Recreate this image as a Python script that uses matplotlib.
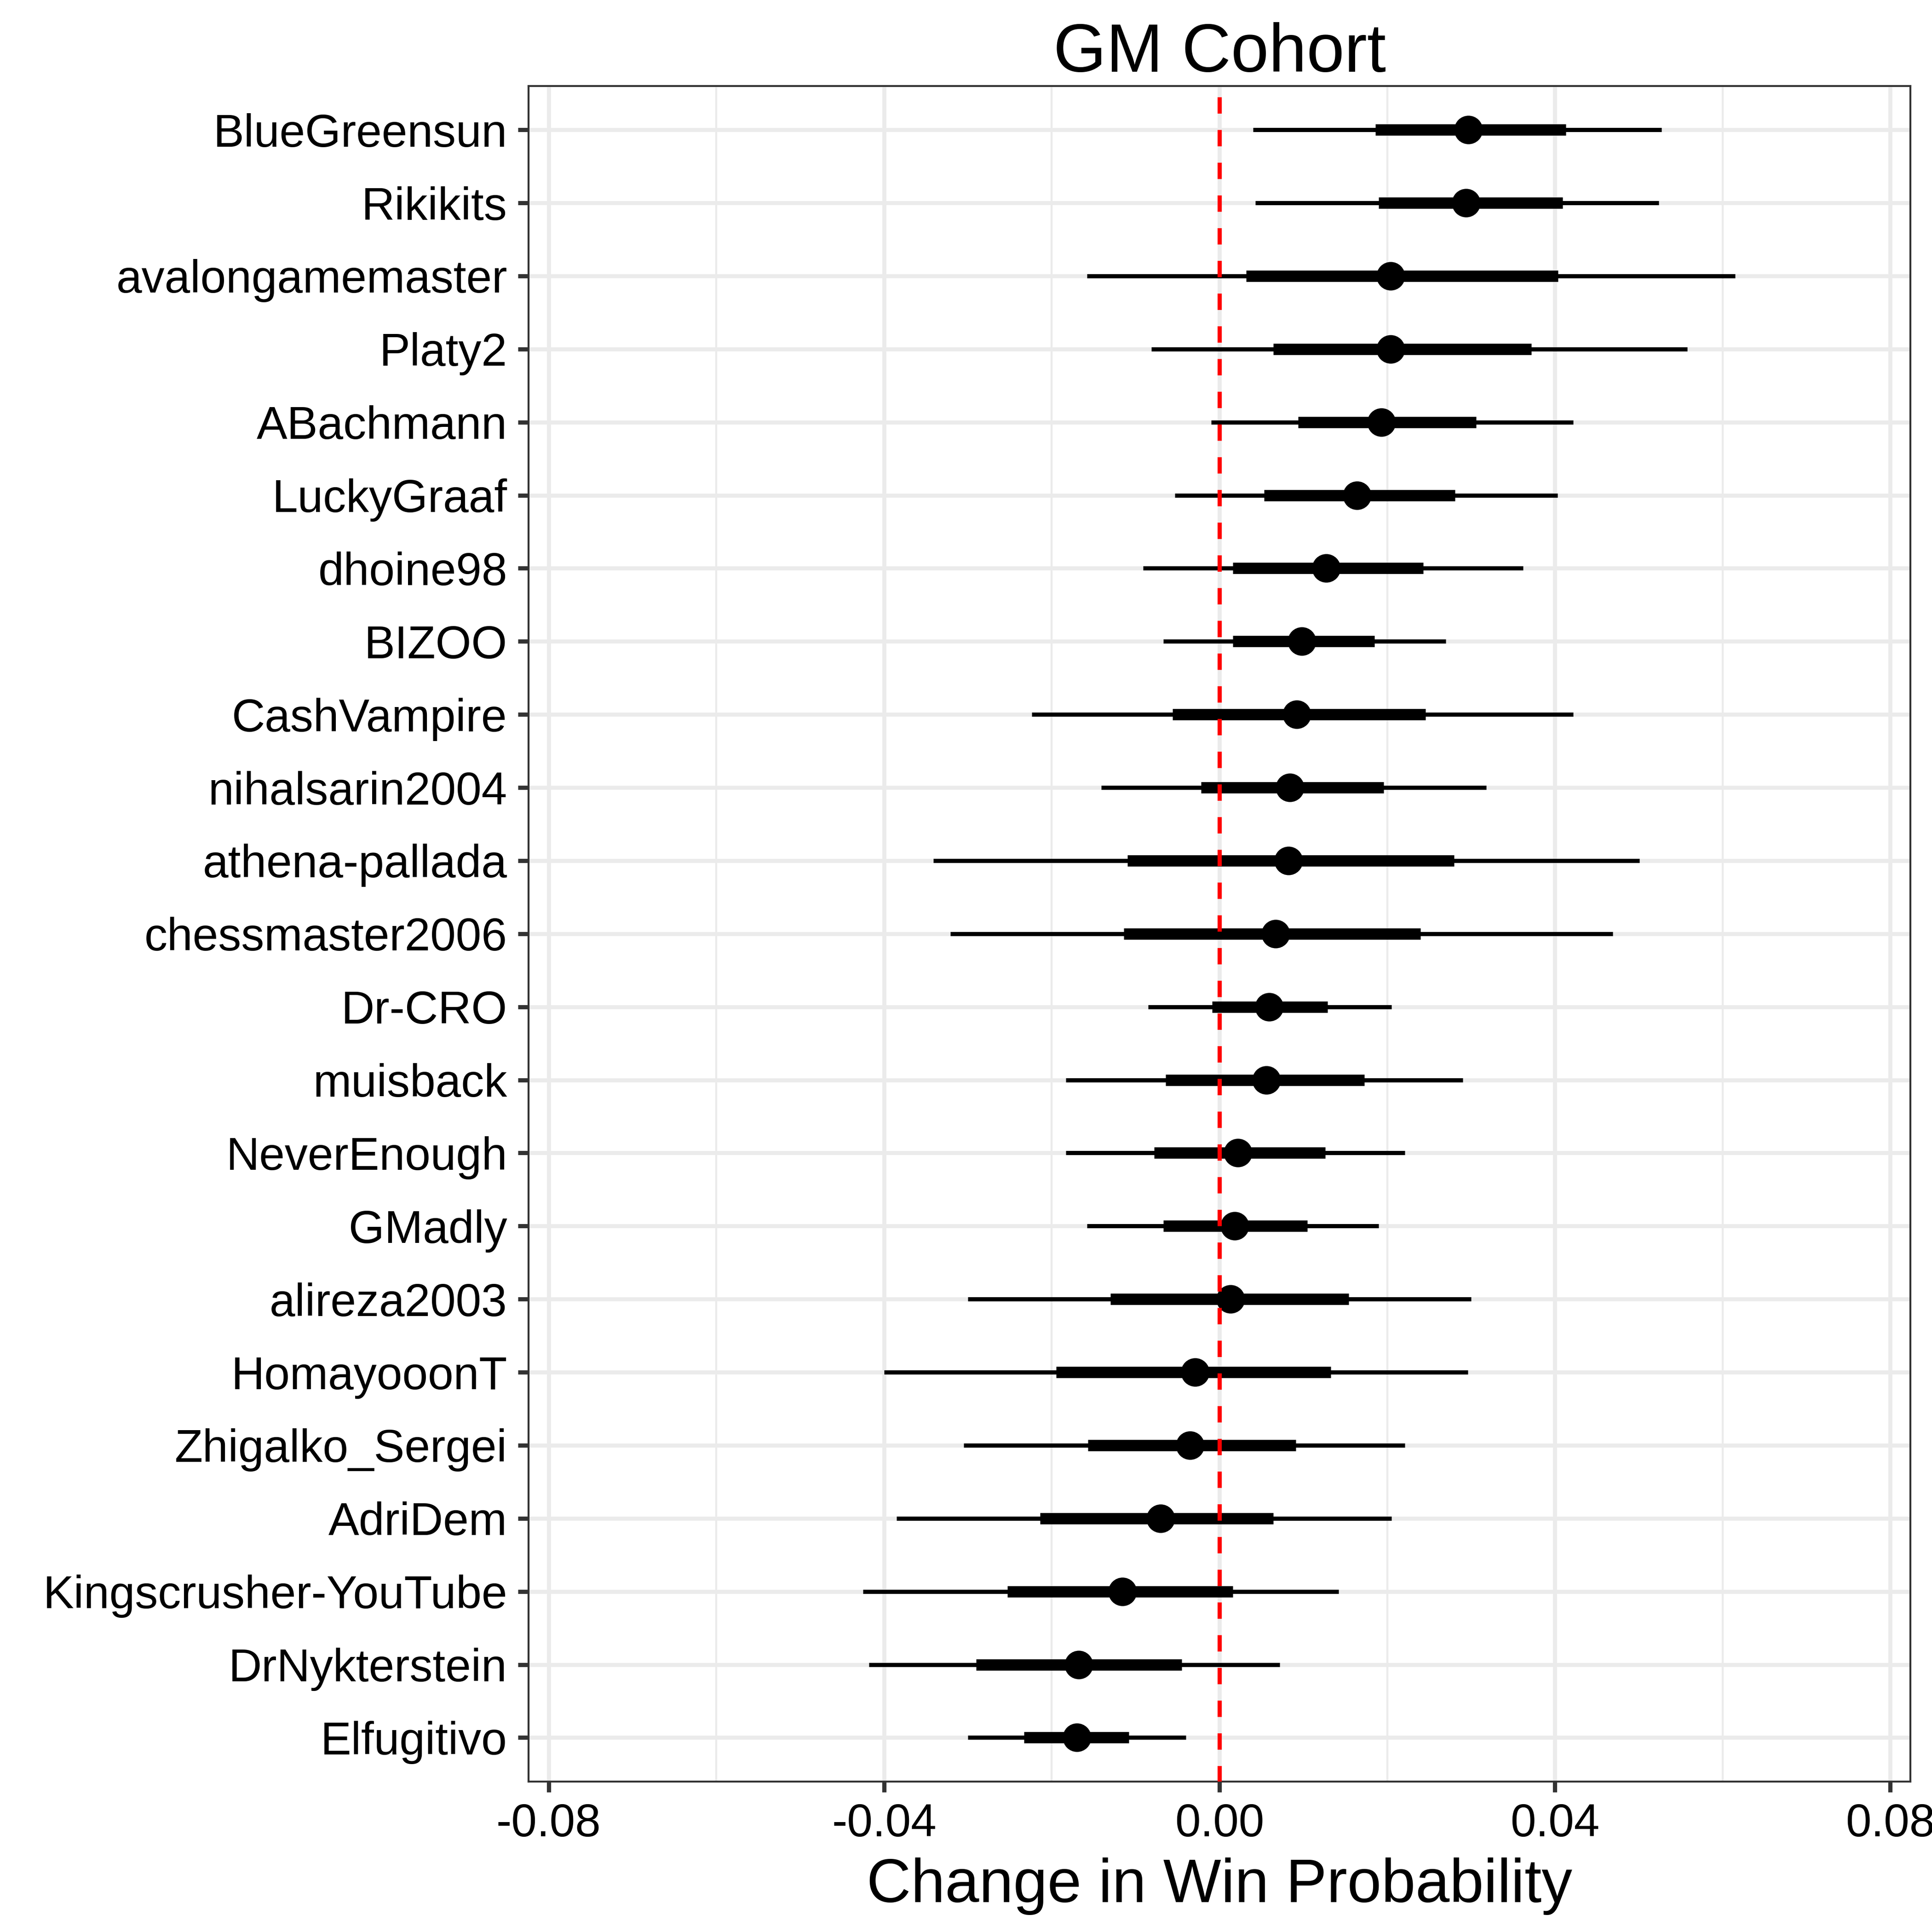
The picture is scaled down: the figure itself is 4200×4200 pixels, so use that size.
import matplotlib
matplotlib.use("Agg")
import matplotlib.pyplot as plt
import numpy as np

plt.rcParams['font.family'] = ['Liberation Sans', 'DejaVu Sans']
plt.rcParams['axes.unicode_minus'] = False

players = ["BlueGreensun", "Rikikits", "avalongamemaster", "Platy2", "ABachmann",
           "LuckyGraaf", "dhoine98", "BIZOO", "CashVampire", "nihalsarin2004",
           "athena-pallada", "chessmaster2006", "Dr-CRO", "muisback", "NeverEnough",
           "GMadly", "alireza2003", "HomayooonT", "Zhigalko_Sergei", "AdriDem",
           "Kingscrusher-YouTube", "DrNykterstein", "Elfugitivo"]
estimate = [0.0297, 0.0294, 0.0204, 0.0204, 0.0193, 0.0164, 0.0127, 0.0098, 0.0092,
            0.0084, 0.0082, 0.0067, 0.0059, 0.0056, 0.0022, 0.0018, 0.0013, -0.0029,
            -0.0035, -0.0070, -0.0116, -0.0168, -0.0170]
inner_low = [0.0186, 0.0190, 0.0032, 0.0064, 0.0094, 0.0053, 0.0016, 0.0016, -0.0056,
             -0.0022, -0.0110, -0.0114, -0.0009, -0.0064, -0.0078, -0.0067, -0.0130,
             -0.0195, -0.0157, -0.0214, -0.0253, -0.0290, -0.0233]
inner_high = [0.0413, 0.0409, 0.0404, 0.0372, 0.0306, 0.0281, 0.0243, 0.0185, 0.0246,
              0.0196, 0.0280, 0.0240, 0.0129, 0.0173, 0.0126, 0.0105, 0.0154, 0.0133,
              0.0091, 0.0064, 0.0016, -0.0045, -0.0108]
outer_low = [0.0040, 0.0043, -0.0158, -0.0081, -0.0010, -0.0053, -0.0091, -0.0067,
             -0.0224, -0.0141, -0.0341, -0.0321, -0.0085, -0.0183, -0.0183, -0.0158,
             -0.0300, -0.0400, -0.0305, -0.0385, -0.0425, -0.0418, -0.0300]
outer_high = [0.0527, 0.0524, 0.0615, 0.0558, 0.0422, 0.0403, 0.0362, 0.0270, 0.0422,
              0.0318, 0.0501, 0.0469, 0.0205, 0.0290, 0.0221, 0.0190, 0.0300, 0.0296,
              0.0221, 0.0205, 0.0142, 0.0072, -0.0040]
x_ticks = [-0.08, -0.04, 0.00, 0.04, 0.08]
x_tick_labels = ["-0.08", "-0.04", "0.00", "0.04", "0.08"]
x_minor = [-0.06, -0.02, 0.02, 0.06]

fig = plt.figure(figsize=(14, 14), dpi=300)
ax = fig.add_axes([0.2736, 0.0779, 0.9888 - 0.2736, 0.9555 - 0.0779])

n = len(players)
ypos = np.arange(n, 0, -1)

ax.set_xlim(-0.0824, 0.0824)
ax.set_ylim(0.4, n + 0.6)

ax.set_axisbelow(True)
ax.set_xticks(x_ticks)
ax.set_xticklabels(x_tick_labels)
ax.set_xticks(x_minor, minor=True)
ax.set_yticks(ypos)
ax.set_yticklabels(players)

ax.grid(which='major', axis='x', color='#EBEBEB', linewidth=2.1)
ax.grid(which='minor', axis='x', color='#EBEBEB', linewidth=1.05)
ax.grid(which='major', axis='y', color='#EBEBEB', linewidth=2.1)

ax.hlines(ypos, outer_low, outer_high, colors='black', linewidth=2.2,
          capstyle='butt', zorder=3)
ax.hlines(ypos, inner_low, inner_high, colors='black', linewidth=5.9,
          capstyle='butt', zorder=3)
ax.plot(estimate, ypos, 'o', color='black', markersize=14.9, markeredgewidth=0,
        zorder=4)

# dashed zero line drawn from the top, so the dash phase matches
ax.axvline(0, ymin=1, ymax=0, color='#FF0000', linewidth=2.2,
           linestyle=(5.15, (3.88, 3.88)), zorder=5)

for sp in ax.spines.values():
    sp.set_color('#333333')
    sp.set_linewidth(1.0)

ax.tick_params(axis='both', which='major', length=5.6, width=2.2, color='#333333',
               labelsize=24, labelcolor='black', pad=5.5)
ax.tick_params(axis='both', which='minor', length=0)

ax.set_title("GM Cohort", fontsize=35.5, pad=4)
ax.set_xlabel("Change in Win Probability", fontsize=32, labelpad=6)

fig.savefig("out.png", dpi=300, facecolor='white')
